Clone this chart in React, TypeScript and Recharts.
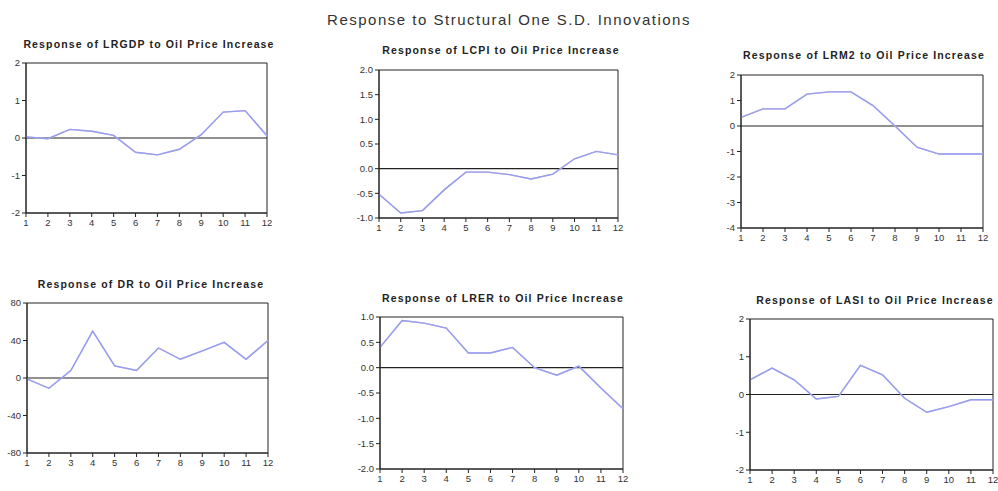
import React from "react";
import { LineChart, Line, XAxis, YAxis, ReferenceLine, ReferenceArea } from "recharts";

const periods = [1, 2, 3, 4, 5, 6, 7, 8, 9, 10, 11, 12];

const lrgdp = [0.03, -0.02, 0.23, 0.18, 0.07, -0.38, -0.45, -0.3, 0.09, 0.69, 0.73, 0.06];
const lcpi = [-0.52, -0.9, -0.85, -0.43, -0.07, -0.07, -0.12, -0.21, -0.11, 0.2, 0.35, 0.28];
const lrm2 = [0.34, 0.67, 0.67, 1.25, 1.34, 1.34, 0.8, 0.0, -0.83, -1.1, -1.1, -1.1];
const dr = [-1, -11, 8, 50, 13, 8, 32, 20, 29, 38, 20, 40];
const lrer = [0.4, 0.93, 0.88, 0.78, 0.29, 0.29, 0.4, 0.0, -0.15, 0.03, -0.4, -0.81];
const lasi = [0.39, 0.7, 0.39, -0.12, -0.05, 0.77, 0.52, -0.1, -0.47, -0.32, -0.14, -0.14];

const ticksLRGDP = [-2, -1, 0, 1, 2];
const ticksLCPI = [-1.0, -0.5, 0.0, 0.5, 1.0, 1.5, 2.0];
const ticksLRM2 = [-4, -3, -2, -1, 0, 1, 2];
const ticksDR = [-80, -40, 0, 40, 80];
const ticksLRER = [-2.0, -1.5, -1.0, -0.5, 0.0, 0.5, 1.0];
const ticksLASI = [-2, -1, 0, 1, 2];

const mainTitle = "Response to Structural One S.D. Innovations";

const build = (vals: number[]) => periods.map((p, i) => ({ p, v: vals[i] }));

type PanelProps = {
  title: string;
  values: number[];
  ticks: number[];
  decimals: number;
  box: { l: number; t: number; r: number; b: number };
  titleX: number;
  titleY: number;
};

const YW = 34;
const MT = 10;
const MR = 10;
const XH = 22;

function Panel({ title, values, ticks, decimals, box, titleX, titleY }: PanelProps) {
  const w = box.r - box.l + YW + MR;
  const h = box.b - box.t + MT + XH;
  const lo = ticks[0];
  const hi = ticks[ticks.length - 1];
  const tickStyle = { fontSize: 9.5, fill: "#333", fontFamily: "Liberation Sans, Arial, sans-serif" };
  return (
    <>
      <div
        style={{
          position: "absolute",
          left: titleX - 150,
          width: 300,
          top: titleY - 7,
          textAlign: "center",
          fontFamily: "Liberation Sans, Arial, sans-serif",
          fontWeight: "bold",
          fontSize: 10.5,
          letterSpacing: 1.15,
          color: "#222",
          lineHeight: "14px",
          whiteSpace: "nowrap",
        }}
      >
        {title}
      </div>
      <div style={{ position: "absolute", left: box.l - YW, top: box.t - MT }}>
        <LineChart width={w} height={h} data={build(values)} margin={{ top: MT, right: MR, bottom: 0, left: 0 }}>
          <XAxis
            dataKey="p"
            type="number"
            domain={[1, 12]}
            ticks={periods}
            height={XH}
            tick={tickStyle}
            tickSize={4}
            stroke="#222"
            interval={0}
          />
          <YAxis
            type="number"
            domain={[lo, hi]}
            ticks={ticks}
            width={YW}
            tick={tickStyle}
            tickSize={4}
            stroke="#222"
            interval={0}
            tickFormatter={(v: number) => v.toFixed(decimals)}
          />
          <ReferenceArea x1={1} x2={12} y1={lo} y2={hi} fill="none" stroke="#222" strokeWidth={1} ifOverflow="visible" />
          <ReferenceLine y={0} stroke="#222" strokeWidth={1.2} />
          <Line
            dataKey="v"
            type="linear"
            stroke="#e9a6d6"
            strokeWidth={1.4}
            dot={false}
            isAnimationActive={false}
          />
          <Line
            dataKey="v"
            type="linear"
            stroke="#8fa2f2"
            strokeWidth={1.4}
            dot={false}
            isAnimationActive={false}
          />
        </LineChart>
      </div>
    </>
  );
}

export default function App() {
  return (
    <div style={{ position: "absolute", left: 0, top: 0, width: 998, height: 491, background: "#fff", overflow: "hidden" }}>
      <div
        style={{
          position: "absolute",
          left: 259,
          width: 500,
          top: 10,
          textAlign: "center",
          fontFamily: "Liberation Sans, Arial, sans-serif",
          fontSize: 15,
          letterSpacing: 1.5,
          color: "#333",
          lineHeight: "20px",
          whiteSpace: "nowrap",
        }}
      >
        {mainTitle}
      </div>
      <Panel title="Response of LRGDP to Oil Price Increase" values={lrgdp} ticks={ticksLRGDP} decimals={0}
        box={{ l: 26, t: 63, r: 267, b: 213 }} titleX={149} titleY={44} />
      <Panel title="Response of LCPI to Oil Price Increase" values={lcpi} ticks={ticksLCPI} decimals={1}
        box={{ l: 379, t: 70, r: 618, b: 218 }} titleX={501} titleY={50} />
      <Panel title="Response of LRM2 to Oil Price Increase" values={lrm2} ticks={ticksLRM2} decimals={0}
        box={{ l: 741, t: 75, r: 983, b: 228 }} titleX={864} titleY={55} />
      <Panel title="Response of DR to Oil Price Increase" values={dr} ticks={ticksDR} decimals={0}
        box={{ l: 27, t: 303, r: 268, b: 453 }} titleX={151} titleY={284} />
      <Panel title="Response of LRER to Oil Price Increase" values={lrer} ticks={ticksLRER} decimals={1}
        box={{ l: 380, t: 317, r: 623, b: 469 }} titleX={503} titleY={298} />
      <Panel title="Response of LASI to Oil Price Increase" values={lasi} ticks={ticksLASI} decimals={0}
        box={{ l: 750, t: 319, r: 993, b: 470 }} titleX={875} titleY={300} />
    </div>
  );
}
